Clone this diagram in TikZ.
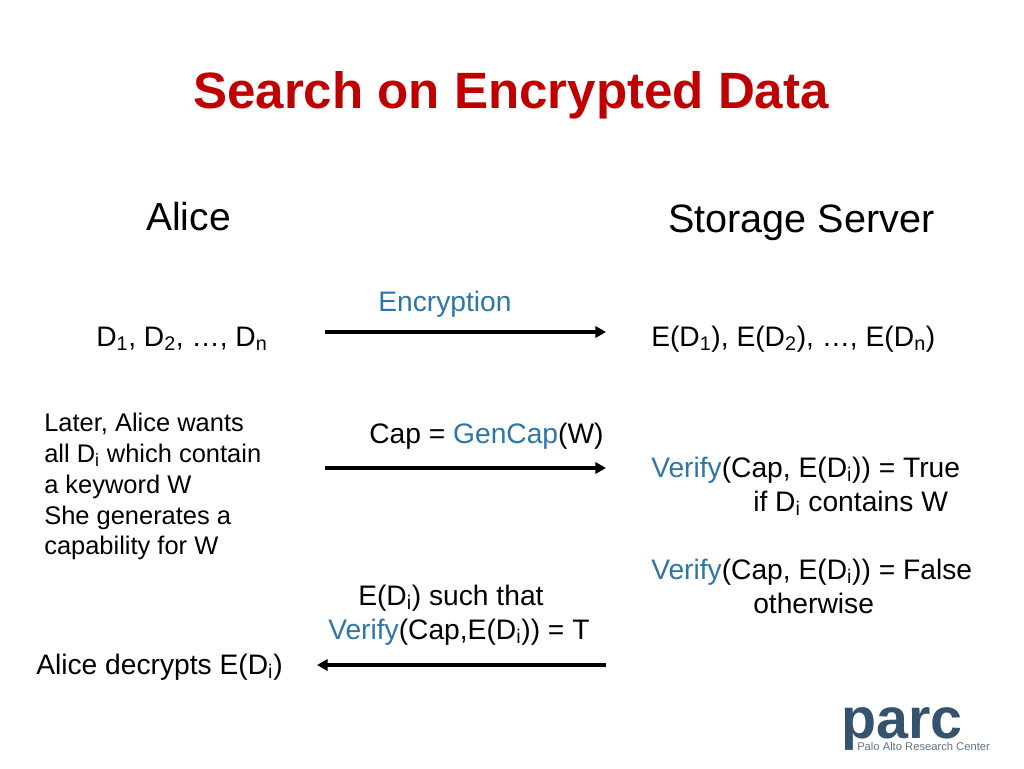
\documentclass[tikz,border=0pt]{standalone}
\usepackage{fontspec}
\setmainfont{Liberation Sans}
\usetikzlibrary{arrows.meta}
\definecolor{ttl}{HTML}{C00000}
\definecolor{blu}{HTML}{2E75A8}
\definecolor{prc}{HTML}{34536F}
\definecolor{prcl}{HTML}{5F7488}
\newcommand{\bl}[1]{\textcolor{blu}{#1}}
\tikzset{x=0.75pt,y=-0.75pt,
 lbl/.style={inner sep=0pt,anchor=base west,font=\fontsize{21.15}{21.15}\selectfont},
 sml/.style={inner sep=0pt,anchor=base west,font=\fontsize{19.1}{19.1}\selectfont},
 big/.style={inner sep=0pt,anchor=base west,font=\fontsize{29.7}{29.7}\selectfont},
 arr/.style={line width=2.3pt,-{Stealth[length=8pt,width=8.5pt,inset=0pt]}}}
\begin{document}
\begin{tikzpicture}
\useasboundingbox (0,0) rectangle (1024,768);
\fill[white] (0,0) rectangle (1024,768);
\node[inner sep=0pt,anchor=base,font=\fontsize{38.3}{38.3}\selectfont\bfseries,text=ttl] (title) at (511,108) {Search on Encrypted Data};
\node[big,font=\fontsize{29.3}{29.3}\selectfont] (alice) at (146,230) {Alice};
\node[big] (server) at (668,232) {Storage Server};
\node[lbl] (docs) at (96,346) {D\textsubscript{1}, D\textsubscript{2}, …, D\textsubscript{n}};
\node[lbl] (enc) at (378,311) {\bl{Encryption}};
\node[lbl] (edocs) at (651,346) {E(D\textsubscript{1}), E(D\textsubscript{2}), …, E(D\textsubscript{n})};
\coordinate (a1) at (325,332); \coordinate (b1) at (606,332);
\draw[arr] (a1) -- (b1);
\node[sml] (l1) at (44,431) {Later, Alice wants};
\node[sml] (l2) at (44,462) {all D\textsubscript{i} which contain};
\node[sml] (l3) at (44,493) {a keyword W};
\node[sml] (l4) at (44,524) {She generates a};
\node[sml] (l5) at (44,554) {capability for W};
\node[lbl] (cap) at (369,443) {Cap = \bl{GenCap}(W)};
\coordinate (a2) at (325,468); \coordinate (b2) at (606,468);
\draw[arr] (a2) -- (b2);
\node[lbl] (v1) at (651,477) {\bl{Verify}(Cap, E(D\textsubscript{i})) = True};
\node[lbl] (v2) at (753,511) {if D\textsubscript{i} contains W};
\node[lbl] (v3) at (651,579) {\bl{Verify}(Cap, E(D\textsubscript{i})) = False};
\node[lbl] (v4) at (753,613) {otherwise};
\node[lbl] (e1) at (358,605) {E(D\textsubscript{i}) such that};
\node[lbl] (e2) at (328,639) {\bl{Verify}(Cap,E(D\textsubscript{i})) = T};
\node[lbl] (dec) at (36,674) {Alice decrypts E(D\textsubscript{i})};
\coordinate (a3) at (606,665); \coordinate (b3) at (317,665);
\draw[arr] (a3) -- (b3);
\node[inner sep=0pt,anchor=base west,font=\fontsize{43}{43}\selectfont\bfseries,text=prc] (parc) at (841,738) {parc};
\node[inner sep=0pt,anchor=base west,font=\fontsize{8.4}{8.4}\selectfont,text=prcl] (palo) at (857,750) {Palo Alto Research Center};
\end{tikzpicture}
\end{document}
